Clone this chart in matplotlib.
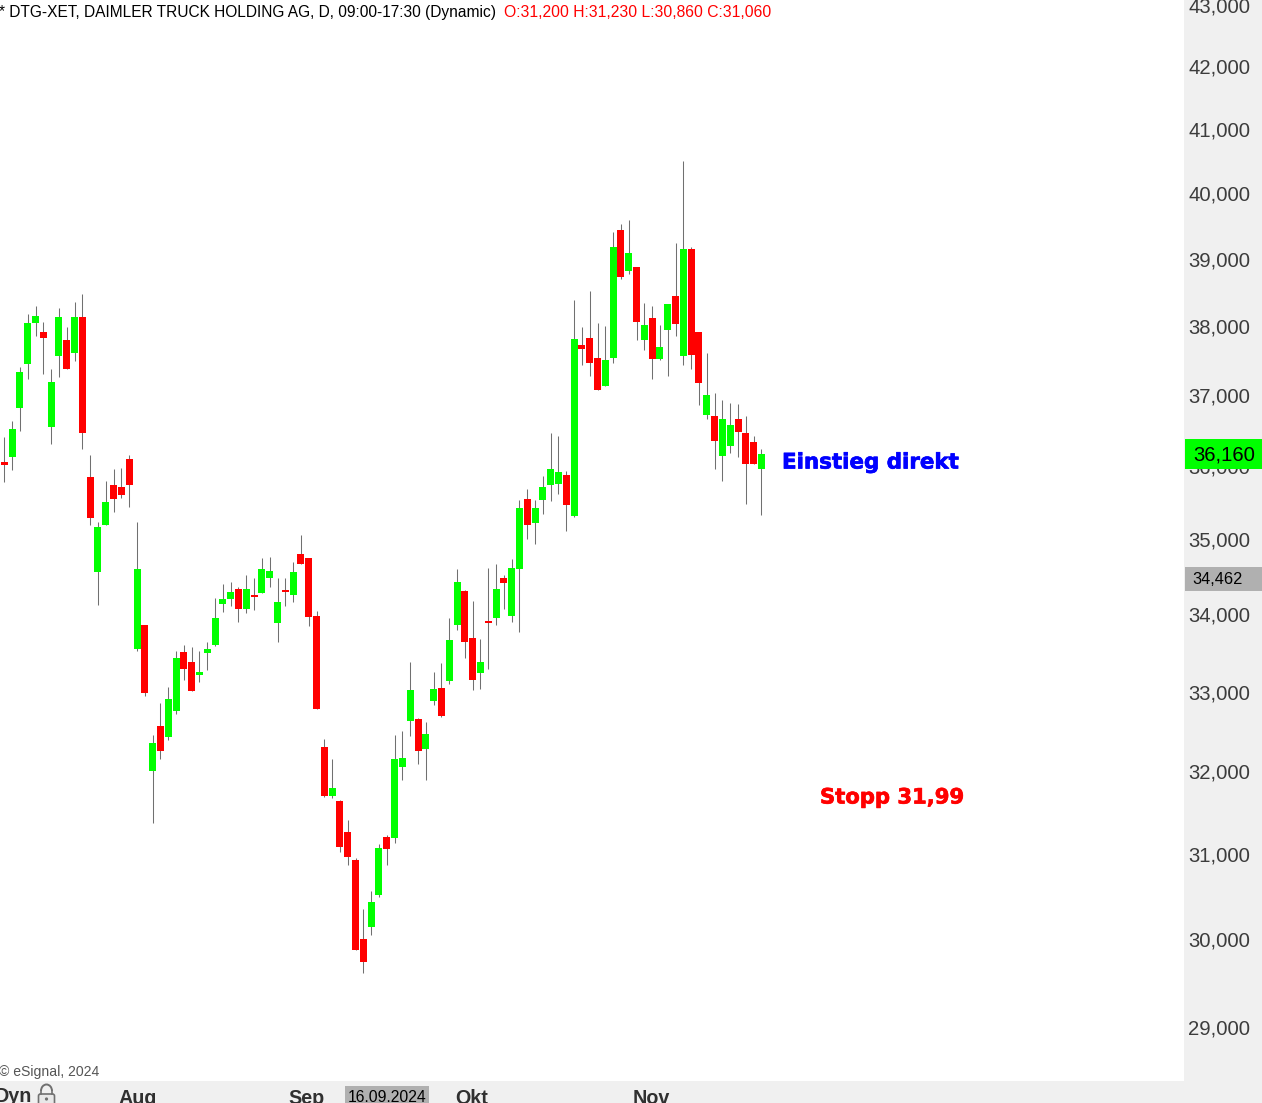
import matplotlib
matplotlib.use("Agg")
import matplotlib.pyplot as plt
import matplotlib.patheffects as pe
from matplotlib.patches import Rectangle, FancyBboxPatch, Arc, Circle
from matplotlib.ticker import NullLocator

# ---- data ------------------------------------------------------------
opens = [36056,36127,36817,37449,38043,37912,36549,37564,37796,37608,38132,35849,34561,35192,35740,35712,36099,33553,33861,32004,
         32568,32430,32756,33511,33382,33213,33498,33602,34136,34202,34335,34069,34255,34282,34481,33886,34322,34255,34801,34747,
         33977,32304,31700,31641,31265,30924,29995,30136,30513,31202,31190,32054,32630,32655,32279,32881,33045,33136,33861,34309,
         33692,33239,33912,33951,34481,33977,34601,35548,35219,35534,35740,35753,35877,35315,37724,37825,37535,37130,37535,39434,
         38814,38874,37796,38117,37521,37941,38443,37564,39145,37912,36718,36704,36141,36282,36662,36465,36338,35959]
highs = [36408,36634,37405,38177,38295,38058,37376,38266,37984,38355,38473,36155,35233,35795,35959,35973,36155,35233,33861,32455,
         32855,33058,33524,33602,33576,33524,33640,34216,34402,34428,34362,34521,34481,34747,34761,34481,34481,34694,35055,34747,
         34043,32405,32154,31654,31411,30949,30348,30560,31117,31226,32455,32505,33382,32668,32618,33252,33369,33951,34601,34322,
         34176,33680,34614,34668,34521,34734,35534,35685,35534,35863,36465,36422,35932,38384,37984,38517,38043,37998,39404,39526,
         39587,38874,38338,38295,38013,38325,39236,40498,39175,37912,37608,37029,36930,36887,36873,36704,36422,36239]
lows = [35785,35945,36493,37232,37854,37304,36310,37260,37376,37492,36239,35192,34122,35192,35370,35562,35438,33524,32944,31372,
        32154,32392,32718,33149,33006,33123,33278,33589,34029,34109,33899,34016,34056,34282,34362,33640,34109,34162,34668,33847,
        32782,31690,31678,31019,30866,29870,29609,30042,30489,30866,31129,31894,32442,32091,31894,32831,32680,33097,33796,33433,
        33019,33032,33291,33861,34069,33899,33770,35000,34933,35342,35521,35616,35110,35301,37434,37275,37072,37130,37463,38696,
        38770,37796,37651,37232,37506,37275,37854,37434,37376,36859,36662,35959,35795,36183,36127,35480,36028,35329]
closes = [36014,36521,37333,38043,38147,37825,37188,38132,37376,38132,36465,35288,35164,35507,35548,35603,35740,34601,32981,32355,
          32254,32908,33433,33291,33006,33252,33550,33951,34202,34295,34069,34335,34229,34601,34575,34162,34295,34561,34668,33964,
          32782,31700,31799,31080,30960,29870,29734,30430,31068,31056,32154,32167,33019,32254,32467,33032,32693,33667,34428,33640,
          33149,33382,33886,34335,34415,34614,35425,35192,35425,35712,35959,35918,35466,37810,37666,37463,37072,37506,39175,38726,
          39084,38058,38013,37521,37695,38325,38028,39145,37579,37174,37000,36352,36662,36577,36479,36028,36028,36169]

price_ticks = [29000,30000,31000,32000,33000,34000,35000,36000,37000,38000,39000,40000,41000,42000,43000]
price_labels = ["29,000","30,000","31,000","32,000","33,000","34,000","35,000","36,000","37,000","38,000","39,000","40,000","41,000","42,000","43,000"]
month_positions = [17.06, 38.65, 59.9, 82.9]
month_labels = ["Aug", "Sep", "Okt", "Nov"]

header_black = "* DTG-XET, DAIMLER TRUCK HOLDING AG, D, 09:00-17:30 (Dynamic)"
header_red = "O:31,200 H:31,230 L:30,860 C:31,060"
last_price = "36,160"
marker_price = "34,462"
cursor_date = "16.09.2024"

GREEN = "#00ff00"
RED = "#ff0000"
PANEL = "#f0f0f0"
WICK = "#707070"

plt.rcParams["font.family"] = ["Liberation Sans", "DejaVu Sans"]
W, H = 1262, 1103
fig = plt.figure(figsize=(W / 100, H / 100), dpi=100, facecolor=PANEL)

# main price axes: x 0-1184 px, y 0-1081 px
ax = fig.add_axes([0, (H - 1081) / H, 1184 / W, 1081 / H], facecolor="white")
ax.set_yscale("log")
ax.set_ylim(28397, 43091)
ax.set_xlim(-0.555, 151.14)
for s in ax.spines.values():
    s.set_visible(False)

xs = list(range(len(opens)))
ax.vlines(xs, lows, highs, color=WICK, linewidth=0.75, zorder=2)
for i in xs:
    col = GREEN if closes[i] > opens[i] else RED
    lo, hi = sorted((opens[i], closes[i]))
    ax.bar(i, hi - lo, bottom=lo, width=0.897, color=col, linewidth=0, zorder=3)

ax.yaxis.tick_right()
ax.set_yticks(price_ticks)
ax.set_yticklabels(price_labels, fontsize=14.6, color="#3c3c3c")
ax.yaxis.set_minor_locator(NullLocator())
ax.tick_params(axis="y", which="major", length=0, pad=3.0)
ax.set_xticks(month_positions)
ax.set_xticklabels(month_labels, fontsize=14.2, color="#303030", fontweight="bold")
ax.tick_params(axis="x", length=0, pad=5.5)

# overlay in pixel coordinates for annotations
ov = fig.add_axes([0, 0, 1, 1], facecolor="none", zorder=5)
ov.set_xlim(0, W)
ov.set_ylim(H, 0)
ov.axis("off")

ov.text(-1, 12.5, header_black, fontsize=11.2, color="black", va="center", ha="left")
ov.text(504, 12.5, header_red, fontsize=11.3, color=RED, va="center", ha="left")
ov.text(-1, 1072, "© eSignal, 2024", fontsize=10.1, color="#555555", va="center", ha="left")

ov.add_patch(Rectangle((1185, 439), 77, 30, facecolor=GREEN, edgecolor="none"))
ov.text(1224, 455, last_price, fontsize=14.6, color="black", va="center", ha="center")
ov.add_patch(Rectangle((1185, 567), 77, 24, facecolor="#b0b0b0", edgecolor="none"))
ov.text(1192, 579.5, marker_price, fontsize=11.8, color="black", va="center", ha="left")

ov.add_patch(Rectangle((345, 1086), 84, 17, facecolor="#b0b0b0", edgecolor="none"))
ov.text(387, 1098, cursor_date, fontsize=11.3, color="black", va="center", ha="center")

ov.text(-5, 1097, "Dyn", fontsize=14.2, color="#303030", fontweight="bold", va="center", ha="left")
ov.add_patch(FancyBboxPatch((38.5, 1094), 16, 12, boxstyle="round,pad=0,rounding_size=2",
                            facecolor="#e8e8e8", edgecolor="#707070", linewidth=1.2))
ov.add_patch(Arc((46.5, 1091), 11, 13, theta1=180, theta2=360, edgecolor="#707070", linewidth=1.4))
ov.plot([41, 41], [1091, 1094], color="#707070", lw=1.2)
ov.plot([52, 52], [1091, 1094], color="#707070", lw=1.2)
ov.add_patch(Circle((46.5, 1099), 1.6, facecolor="#707070", edgecolor="none"))

t1 = ov.text(782, 462.5, "Einstieg direkt", fontsize=15.4, color="#0000ff", fontweight="bold",
             family="DejaVu Sans", va="center", ha="left")
t2 = ov.text(820, 797.5, "Stopp 31,99", fontsize=15.2, color=RED, fontweight="bold",
             family="DejaVu Sans", va="center", ha="left")
t1.set_path_effects([pe.withStroke(linewidth=0.5, foreground="#0000ff")])
t2.set_path_effects([pe.withStroke(linewidth=0.5, foreground=RED)])

fig.savefig("out.png", dpi=100, facecolor=fig.get_facecolor())
